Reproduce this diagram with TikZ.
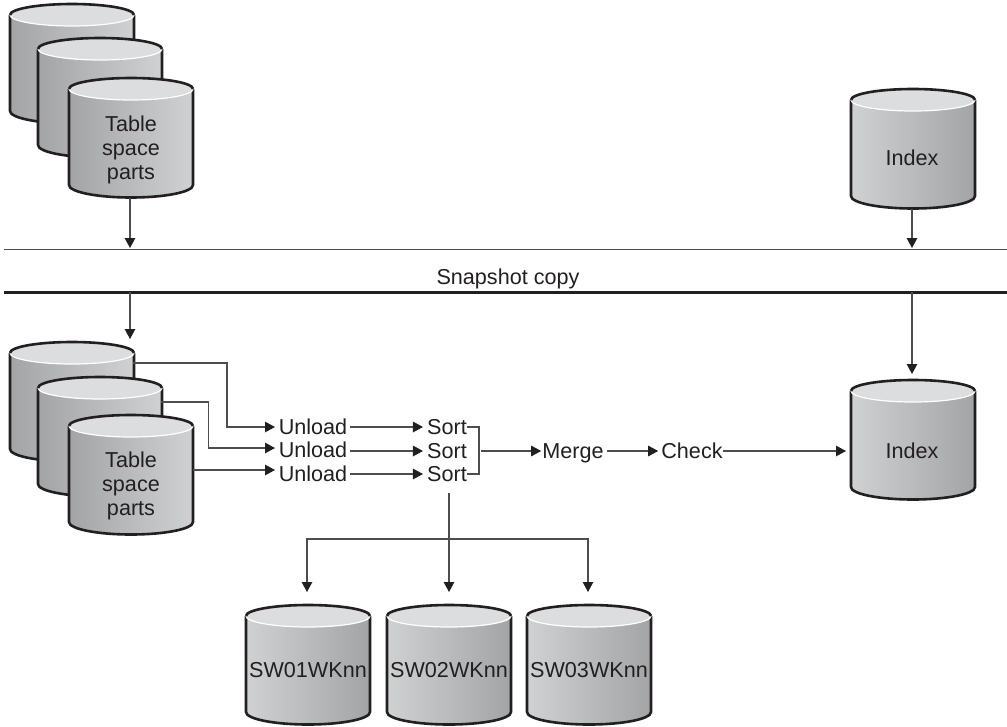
\documentclass[tikz,border=0pt]{standalone}
\usepackage{fontspec}
\setmainfont{Liberation Sans}
\usetikzlibrary{arrows.meta}
\definecolor{ink}{HTML}{231F20}
\definecolor{wire}{HTML}{4D4D4F}
\definecolor{captop}{HTML}{DCDDDE}
\definecolor{cdark}{HTML}{A3A4A6}
\definecolor{clight}{HTML}{D0D1D3}
\tikzset{
  flow/.style={draw=wire,line width=1.2pt,-{Triangle[length=10pt,width=10.5pt,color=ink]}},
  plainwire/.style={draw=wire,line width=1.2pt},
  lbl/.style={text=ink,inner sep=0pt,font=\fontsize{21.6}{24}\selectfont,align=center,text height=15.5pt,text depth=0pt},
  multilbl/.style={text=ink,inner sep=0pt,font=\fontsize{21.6}{24}\selectfont,align=center},
  cylframe/.style={inner sep=0pt,outer sep=0pt,minimum width=124pt,minimum height=120pt}
}
% name, left x, top y, left colour, right colour
\newcommand{\cylinder}[5]{%
  \node[cylframe,anchor=north west] (#1) at (#2,#3) {};
  \begin{scope}[shift={(#2,#3)}]
    \path[left color=#4,right color=#5]
      (0,11) -- (0,107) arc[start angle=180,end angle=360,x radius=62pt,y radius=12.5pt] -- (124,11) -- cycle;
    \draw[ink,line width=2.6pt,line join=round]
      (0,11) -- (0,107) arc[start angle=180,end angle=360,x radius=62pt,y radius=12.5pt] -- (124,11);
    \fill[captop] (62,11) ellipse[x radius=62pt,y radius=11pt];
    \draw[white,line width=1.2pt] (0,11) arc[start angle=180,end angle=360,x radius=62pt,y radius=11pt];
    \draw[ink,line width=2.6pt] (0,11) arc[start angle=180,end angle=0,x radius=62pt,y radius=11pt];
  \end{scope}}
\begin{document}
\begin{tikzpicture}[x=1pt,y=-1pt]
\useasboundingbox[fill=white] (0,0) rectangle (1007,726);

% rules
\coordinate (r1a) at (4,249); \coordinate (r1b) at (1007,249);
\coordinate (r2a) at (4,292); \coordinate (r2b) at (1007,292);
\draw[wire,line width=1pt] (r1a) -- (r1b);
\draw[ink,line width=3pt] (r2a) -- (r2b);
\node[lbl] (snap) at (508,277) {Snapshot copy};

% upper cylinders
\cylinder{ua}{10}{4}{cdark}{clight}
\cylinder{ub}{38}{38}{cdark}{clight}
\cylinder{uc}{69}{78}{cdark}{clight}
\node[multilbl] (uct) at (131,149.5) {Table\\space\\parts};
\cylinder{ui}{851}{89}{clight}{cdark}
\node[lbl] (uit) at (912,158) {Index};

% lower cylinders
\cylinder{la}{10}{342}{cdark}{clight}
\cylinder{lb}{38}{377}{cdark}{clight}
\cylinder{lc}{69}{415}{cdark}{clight}
\node[multilbl] (lct) at (131,486) {Table\\space\\parts};
\cylinder{li}{851}{380}{clight}{cdark}
\node[lbl] (lit) at (912,451) {Index};

% sort work data sets
\cylinder{s1}{246}{605}{clight}{cdark}
\cylinder{s2}{387}{605}{clight}{cdark}
\cylinder{s3}{527}{605}{clight}{cdark}
\node[lbl] (s1t) at (308,670) {SW01WKnn};
\node[lbl] (s2t) at (449,670) {SW02WKnn};
\node[lbl] (s3t) at (589,670) {SW03WKnn};

% process labels
\node[lbl] (u1) at (313,427) {Unload};
\node[lbl] (u2) at (313,450) {Unload};
\node[lbl] (u3) at (313,474) {Unload};
\node[lbl] (so1) at (447,427) {Sort};
\node[lbl] (so2) at (447,451) {Sort};
\node[lbl] (so3) at (447,474) {Sort};
\node[lbl] (mg) at (573,451) {Merge};
\node[lbl] (ck) at (692,451) {Check};

% helper points
\coordinate (t1) at (130,248);
\coordinate (t2) at (912,248);
\coordinate (b1) at (130,292);
\coordinate (b2) at (912,292);
\coordinate (d1) at (130,339);
\coordinate (d2) at (912,374);
\coordinate (o1) at (133,363);
\coordinate (o2) at (161,402);
\coordinate (o3) at (193,470);
\coordinate (k1) at (227,363);
\coordinate (k2) at (208.5,402);
\coordinate (e1) at (275,427);
\coordinate (e2) at (275,448);
\coordinate (e3) at (275,470);
\coordinate (f2) at (350,451);
\coordinate (mix) at (481,451);
\coordinate (br) at (479,451);
\coordinate (tap) at (449,493);
\coordinate (hub) at (449,539);
\coordinate (ix) at (846,451);
\coordinate (a1) at (307,592);
\coordinate (a2) at (449,592);
\coordinate (a3) at (588,592);

% connectors
\draw[flow] (t1 |- uc.south) -- (t1);
\draw[flow] (t2 |- ui.south) -- (t2);
\draw[flow] (b1) -- (d1);
\draw[flow] (b2) -- (d2);
\draw[flow] (o1) -- (k1) |- (e1);
\draw[flow] (o2) -- (k2) |- (e2);
\draw[flow] (o3) -- (e3);
\draw[flow] ([xshift=3pt]u1.east) -- ([xshift=-4pt]so1.west);
\draw[flow] (f2) -- ([xshift=-4pt]so2.west);
\draw[flow] ([xshift=3pt]u3.east) -- ([xshift=-4pt]so3.west);
\draw[plainwire] (so1.east) -- (so1.east -| br) -- (so3.east -| br) -- (so3.east);
\draw[flow] (mix) -- ([xshift=-1pt]mg.west);
\draw[flow] ([xshift=3pt]mg.east) -- ([xshift=-3pt]ck.west);
\draw[flow] (ck.east) -- (ix);
\draw[plainwire] (tap) -- (hub);
\draw[flow] (hub) -- (a2);
\draw[flow] (hub) -| (a1);
\draw[flow] (hub) -| (a3);
\end{tikzpicture}
\end{document}
